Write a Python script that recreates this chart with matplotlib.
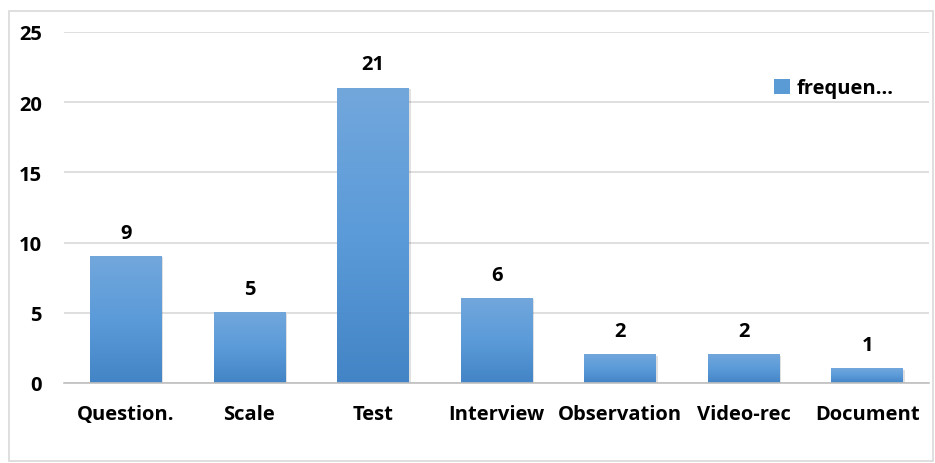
import numpy as np
import matplotlib.pyplot as plt
from matplotlib.colors import LinearSegmentedColormap
from matplotlib.patches import Rectangle

# data
categories = ['Question.', 'Scale', 'Test', 'Interview', 'Observation', 'Video-rec', 'Document']
frequency = [9, 5, 21, 6, 2, 2, 1]
yticks = [0, 5, 10, 15, 20, 25]

plt.rcParams['font.family'] = ['Open Sans', 'DejaVu Sans']
plt.rcParams['font.weight'] = 'bold'

fig = plt.figure(figsize=(9.35, 4.64), dpi=100)
fig.patches.append(Rectangle((9 / 935, 2 / 464), 924 / 935, 450 / 464, transform=fig.transFigure,
                             fill=False, edgecolor='#d9d9d9', linewidth=1.2))
ax = fig.add_axes([64 / 935, 80 / 464, 865 / 935, 351 / 464])

x = np.arange(len(categories))
bars = ax.bar(x, frequency, width=0.58, color='#5b9bd5', zorder=3, label='frequen…')

# gradient fill + soft shadow like the Excel chart
cmap = LinearSegmentedColormap.from_list('g', ['#4384c6', '#5b9bd9', '#72a7dc'])
grad = np.linspace(0, 1, 256).reshape(-1, 1)
for b in bars:
    x0, w, h = b.get_x(), b.get_width(), b.get_height()
    ax.add_patch(Rectangle((x0 + 0.015, -0.05), w, h, color='#000000', alpha=0.12, zorder=2, linewidth=0))
    ax.imshow(grad, cmap=cmap, origin='lower', extent=(x0, x0 + w, 0, h), aspect='auto', zorder=3.5)

for xi, v in zip(x, frequency):
    ax.text(xi, v + 1.0, str(v), ha='center', va='bottom', fontsize=14.5, fontweight='bold')

ax.set_xlim(-0.5, len(categories) - 0.5)
ax.set_ylim(0, 25)
ax.set_yticks(yticks)
ax.set_xticks(x)
ax.set_xticklabels(categories, fontsize=14.5, fontweight='bold')
ax.tick_params(axis='both', length=0, labelsize=14.5)
ax.tick_params(axis='x', pad=15)
ax.tick_params(axis='y', pad=16)
for lbl in ax.get_yticklabels():
    lbl.set_fontweight('bold')
ax.grid(axis='y', color='#d9d9d9', linewidth=1.2, zorder=0)
for s in ['top', 'right', 'left']:
    ax.spines[s].set_visible(False)
ax.spines['bottom'].set_color('#bfbfbf')
ax.spines['bottom'].set_linewidth(1.2)
ax.spines['bottom'].set_zorder(4)

leg = ax.legend(loc='upper left', bbox_to_anchor=(0.8, 0.92), frameon=False,
                handlelength=0.8, handleheight=0.8, handletextpad=0.3,
                prop={'size': 14.5, 'weight': 'bold'})

fig.savefig('out.png', dpi=100)
